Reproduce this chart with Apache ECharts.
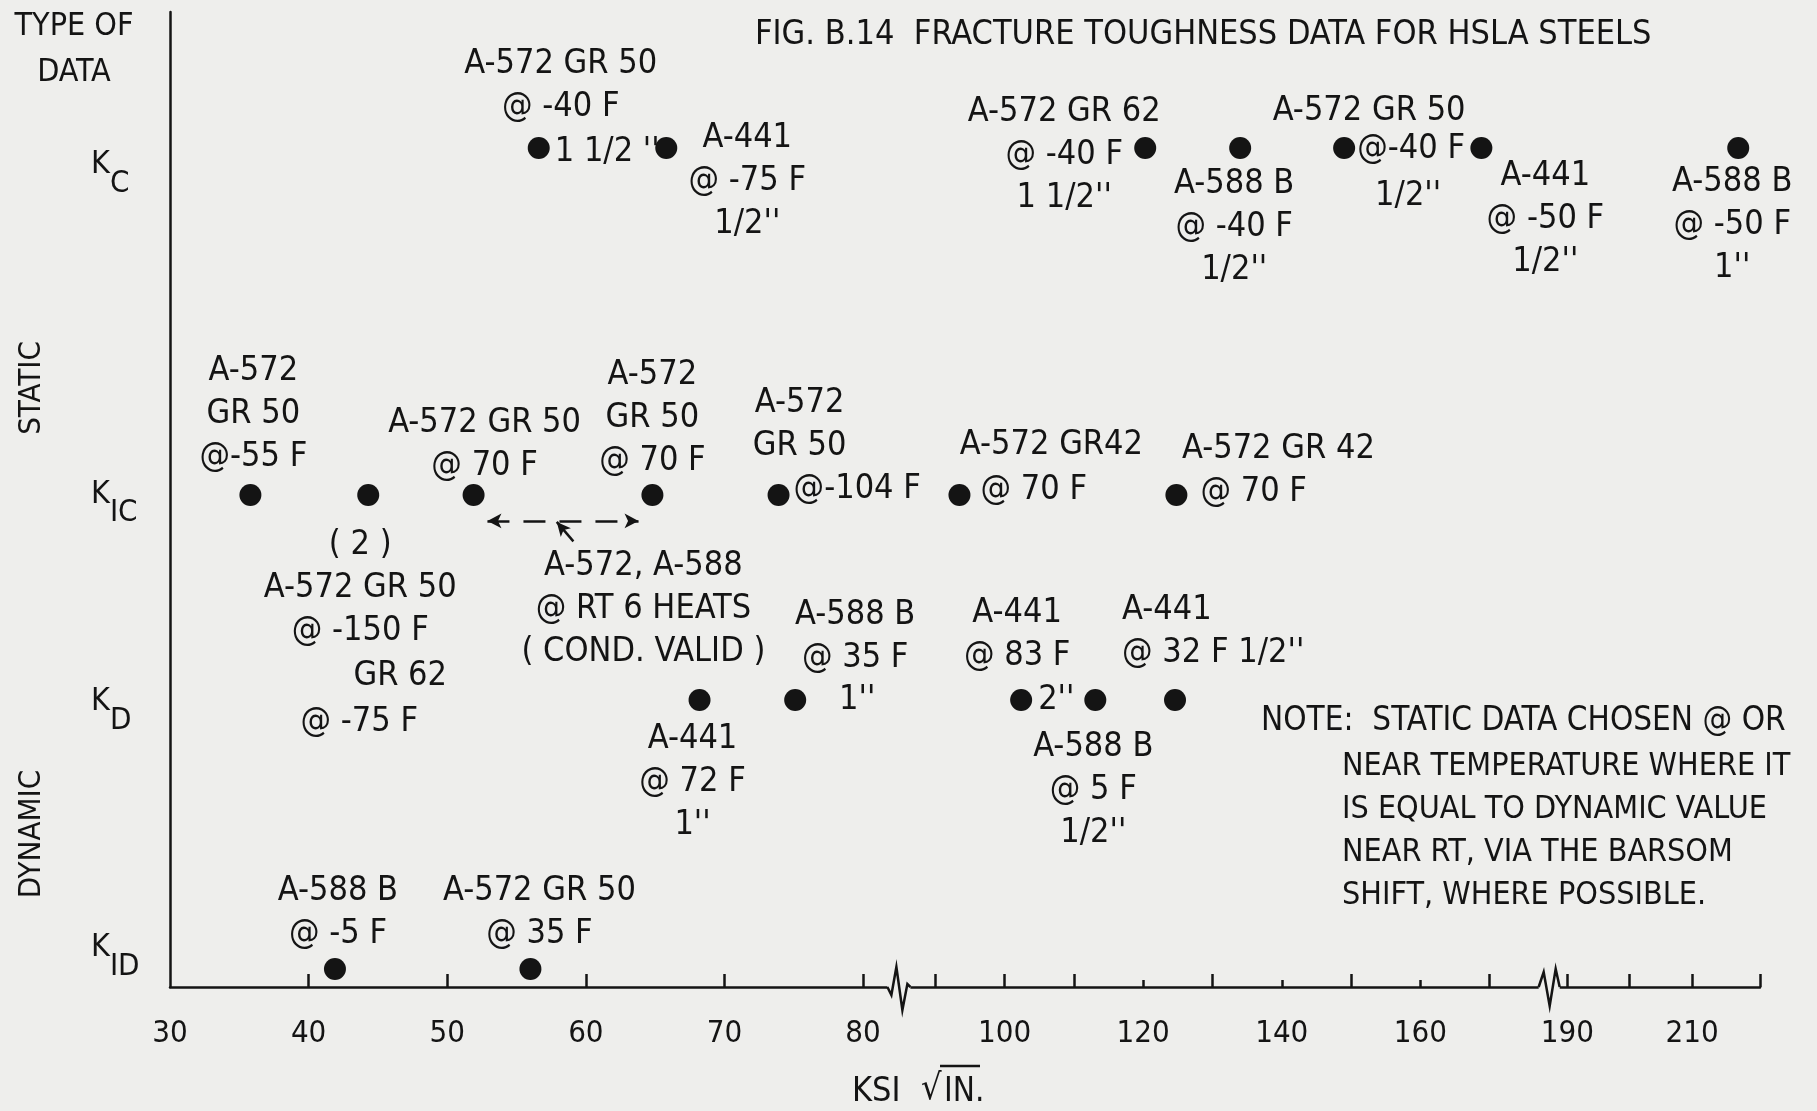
<!DOCTYPE html>
<html>
<head>
<meta charset="utf-8">
<script src="https://cdn.jsdelivr.net/npm/echarts@6.0.0/dist/echarts.min.js"></script>
<style>
  html, body { margin: 0; padding: 0; background: #eeeeec; }
  #chart { width: 1817px; height: 1111px; }
</style>
</head>
<body>
<div id="chart"></div>
<script>
// rows (type of data), with the subscript shown after K
const rowNames = ['KC', 'KIC', 'KD', 'KID'];
const rowSubs = ['C', 'IC', 'D', 'ID'];

// x axis, KSI sqrt(IN.)
const tickLabels = ['30', '40', '50', '60', '70', '80', '100', '120', '140', '160', '190', '210'];
const tallTicks = [40, 50, 60, 70, 80, 90, 100, 110, 130, 150, 170, 190, 200, 210];
const shortTicks = [120, 140, 160];
const axisBreaks = [82.4, 178.8];

// the data points
const pointRow = ['KC', 'KC', 'KC', 'KC', 'KC', 'KC', 'KC',
  'KIC', 'KIC', 'KIC', 'KIC', 'KIC', 'KIC', 'KIC',
  'KD', 'KD', 'KD', 'KD', 'KD',
  'KID', 'KID'];
const pointKsi = [56.6, 65.8, 120.3, 134.0, 149.0, 168.8, 217.4,
  35.8, 44.3, 51.9, 64.8, 73.9, 93.5, 124.8,
  68.2, 75.1, 102.4, 113.1, 124.6,
  41.9, 56.0];

// A-572, A-588 @ RT 6 heats (cond. valid) range
const heatRange = [52.9, 63.8];

// labels next to the points
const noteText = [
  'A-572 GR 50\n@ -40 F', "1 1/2 ''",
  "A-441\n@ -75 F\n1/2''",
  "A-572 GR 62\n@ -40 F\n1 1/2''",
  "A-588 B\n@ -40 F\n1/2''",
  'A-572 GR 50', '@-40 F', "1/2''",
  "A-441\n@ -50 F\n1/2''",
  "A-588 B\n@ -50 F\n1''",
  'A-572\nGR 50\n@-55 F',
  '( 2 )\nA-572 GR 50\n@ -150 F', 'GR 62', '@ -75 F',
  'A-572 GR 50\n@ 70 F',
  'A-572\nGR 50\n@ 70 F',
  'A-572, A-588\n@ RT 6 HEATS\n( COND. VALID )',
  'A-572\nGR 50', '@-104 F',
  'A-572 GR42', '@ 70 F',
  'A-572 GR 42', '@ 70 F',
  "A-441\n@ 72 F\n1''",
  'A-588 B\n@ 35 F', "1''",
  'A-441\n@ 83 F', "2''",
  "A-588 B\n@ 5 F\n1/2''",
  "A-441\n@ 32 F 1/2''",
  'A-588 B\n@ -5 F',
  'A-572 GR 50\n@ 35 F'
];
const notePoint = [0, 0, 1, 2, 3, 4, 4, 4, 5, 6, 7, 8, 8, 8, 9, 10, 10, 11, 11, 12, 12, 13, 13, 14, 15, 15, 16, 16, 17, 18, 19, 20];

// layout: label offset from its dot in px, and alignment
const noteLayout = [[22, -62, 'center'], [16, 4, 'left'], [81, 33, 'center'], [-81, 7, 'center'],
  [-6, 79, 'center'], [25, -37, 'center'], [13, 1, 'left'], [64, 48, 'center'], [64, 71, 'center'],
  [-6, 77, 'center'], [3, -81, 'center'], [-8, 93, 'center'], [32, 181, 'center'], [-9, 227, 'center'],
  [11, -50, 'center'], [0, -77, 'center'], [-9, 114, 'center'], [21, -70, 'center'], [15, -6, 'left'],
  [92, -50, 'center'], [21, -5, 'left'], [102, -46, 'center'], [24, -3, 'left'], [-7, 82, 'center'],
  [60, -63, 'center'], [62, 0, 'center'], [-4, -65, 'center'], [17, 0, 'left'], [-2, 90, 'center'],
  [-53, -68, 'left'], [3, -56, 'center'], [9, -56, 'center']];
const rowLevel = { KC: 86.05, KIC: 50.46, KD: 29.44, KID: 1.85 };
const rowLabelLevel = [83.4, 49.6, 28.3, 3.1];

const ink = '#141414';
const bg = '#eeeeec';
const FONT = "'DejaVu Sans Condensed', 'Liberation Sans Narrow', 'DejaVu Sans', sans-serif";
const AXIS_MAX = 114.7;

// broken axis: 30-82 full scale, 88-175 half scale, 185-220 a bit less
function toAxis(k) {
  if (k <= 85) return k - 30;
  if (k <= 180) return 55.2 + (k - 90) * 0.5;
  return 100.8 + (k - 190) * 0.45;
}

const labelPos = tickLabels.map(t => toAxis(+t));
const zigzags = [
  [[-9, 0], [-5, 8], [0, -20], [6, 23], [11, -3], [14, 0]],
  [[-12, 0], [-7, -15], [-1, 19], [5, -18], [9, 0]]
];

const myChart = echarts.init(document.getElementById('chart'));

const option = {
  backgroundColor: bg,
  animation: false,
  textStyle: { fontFamily: FONT, color: ink },
  grid: { left: 170, right: 57, top: 12, bottom: 124 },
  xAxis: [{
    type: 'value',
    min: 0,
    max: AXIS_MAX,
    splitLine: { show: false },
    axisLine: { lineStyle: { color: ink, width: 2.5 } },
    axisTick: {
      inside: true, length: 13,
      customValues: tallTicks.map(toAxis).concat([AXIS_MAX]),
      lineStyle: { color: ink, width: 2.5 }
    },
    axisLabel: {
      customValues: labelPos,
      margin: 31,
      fontSize: 31,
      fontFamily: FONT,
      color: ink,
      formatter: function (v) {
        const i = labelPos.findIndex(p => Math.abs(p - v) < 0.01);
        return i < 0 ? '' : tickLabels[i];
      }
    }
  }, {
    type: 'value',
    position: 'bottom',
    min: 0,
    max: AXIS_MAX,
    splitLine: { show: false },
    axisLine: { show: false },
    axisLabel: { show: false },
    axisTick: {
      inside: true, length: 7,
      customValues: shortTicks.map(toAxis),
      lineStyle: { color: ink, width: 2.5 }
    }
  }],
  yAxis: {
    type: 'value',
    min: 0,
    max: 100,
    splitLine: { show: false },
    axisTick: { show: false },
    axisLine: { lineStyle: { color: ink, width: 2.5 } },
    axisLabel: {
      customValues: rowLabelLevel,
      align: 'left',
      margin: 79,
      formatter: function (v) {
        const i = rowLabelLevel.findIndex(p => Math.abs(p - v) < 0.01);
        return i < 0 ? '' : '{k|K}{s|' + rowSubs[i] + '}';
      },
      rich: {
        k: { fontSize: 32, fontFamily: FONT, color: ink, padding: [0, 0, 18, 0] },
        s: { fontSize: 31, fontFamily: FONT, color: ink, padding: [20, 0, 0, 0] }
      }
    }
  },
  series: [{
    name: 'points',
    type: 'scatter',
    silent: true,
    symbolSize: 22,
    itemStyle: { color: ink, opacity: 1 },
    data: pointKsi.map((k, i) => [toAxis(k), rowLevel[pointRow[i]]]),
    markLine: {
      silent: true,
      symbol: ['arrow', 'arrow'],
      symbolSize: [11, 14],
      label: { show: false },
      lineStyle: { color: ink, width: 2.5, type: [22, 14], opacity: 1 },
      data: [[
        { coord: [toAxis(heatRange[0]), 47.8] },
        { coord: [toAxis(heatRange[1]), 47.8] }
      ]]
    }
  }, {
    name: 'notes',
    type: 'scatter',
    silent: true,
    symbolSize: 1,
    itemStyle: { color: 'rgba(0,0,0,0)', opacity: 1 },
    label: {
      show: true,
      position: 'inside',
      verticalAlign: 'middle',
      fontSize: 34,
      lineHeight: 43,
      fontFamily: FONT,
      color: ink,
      opacity: 1,
      formatter: p => noteText[p.dataIndex]
    },
    data: noteText.map((t, i) => {
      const pi = notePoint[i];
      return {
        value: [toAxis(pointKsi[pi]), rowLevel[pointRow[pi]]],
        label: { offset: [noteLayout[i][0], noteLayout[i][1]], align: noteLayout[i][2] }
      };
    }),
    markLine: {
      silent: true,
      symbol: ['none', 'arrow'],
      symbolSize: [10, 14],
      label: { show: false },
      lineStyle: { color: ink, width: 2.5, type: 'solid', opacity: 1 },
      data: [[
        { coord: [toAxis(59.1), 45.7] },
        { coord: [toAxis(57.9), 47.7] }
      ]]
    }
  }, {
    name: 'breaks',
    type: 'custom',
    silent: true,
    clip: false,
    z: 10,
    data: axisBreaks.map(k => [toAxis(k), 0]),
    renderItem: function (params, api) {
      const p = api.coord([api.value(0), 0]);
      const zz = zigzags[params.dataIndex];
      return {
        type: 'group',
        children: [{
          type: 'rect',
          shape: { x: p[0] + zz[0][0], y: p[1] - 2, width: zz[zz.length - 1][0] - zz[0][0], height: 4 },
          style: { fill: bg }
        }, {
          type: 'polyline',
          shape: { points: zz.map(d => [p[0] + d[0], p[1] + d[1]]) },
          style: { stroke: ink, lineWidth: 2.5, fill: null }
        }]
      };
    }
  }],
  graphic: [
    { type: 'text', x: 755, y: 35, style: { text: 'FIG. B.14  FRACTURE TOUGHNESS DATA FOR HSLA STEELS', font: '34px ' + FONT, fill: ink, textAlign: 'left', textVerticalAlign: 'middle' } },
    { type: 'text', x: 74, y: 50, style: { text: 'TYPE OF\nDATA', font: '32px ' + FONT, fill: ink, lineHeight: 46, textAlign: 'center', textVerticalAlign: 'middle' } },
    { type: 'text', x: 32, y: 388, rotation: Math.PI / 2, style: { text: 'STATIC', font: '31px ' + FONT, fill: ink, textAlign: 'center', textVerticalAlign: 'middle' } },
    { type: 'text', x: 32, y: 834, rotation: Math.PI / 2, style: { text: 'DYNAMIC', font: '31px ' + FONT, fill: ink, textAlign: 'center', textVerticalAlign: 'middle' } },
    { type: 'text', x: 1261, y: 721, style: { text: 'NOTE:  STATIC DATA CHOSEN @ OR', font: '33px ' + FONT, fill: ink, textAlign: 'left', textVerticalAlign: 'middle' } },
    { type: 'text', x: 1342, y: 831, style: { text: 'NEAR TEMPERATURE WHERE IT\nIS EQUAL TO DYNAMIC VALUE\nNEAR RT, VIA THE BARSOM\nSHIFT, WHERE POSSIBLE.', font: '32px ' + FONT, fill: ink, lineHeight: 43, textAlign: 'left', textVerticalAlign: 'middle' } },
    { type: 'text', x: 852, y: 1092, style: { text: 'KSI', font: '34px ' + FONT, fill: ink, textAlign: 'left', textVerticalAlign: 'middle' } },
    { type: 'text', x: 921, y: 1090, style: { text: '\u221A', font: '36px ' + FONT, fill: ink, textAlign: 'left', textVerticalAlign: 'middle' } },
    { type: 'text', x: 944, y: 1092, style: { text: 'IN.', font: '33px ' + FONT, fill: ink, textAlign: 'left', textVerticalAlign: 'middle' } },
    { type: 'line', shape: { x1: 940, y1: 1066, x2: 980, y2: 1066 }, style: { stroke: ink, lineWidth: 2.5 } }
  ]
};

myChart.setOption(option);
</script>
</body>
</html>
